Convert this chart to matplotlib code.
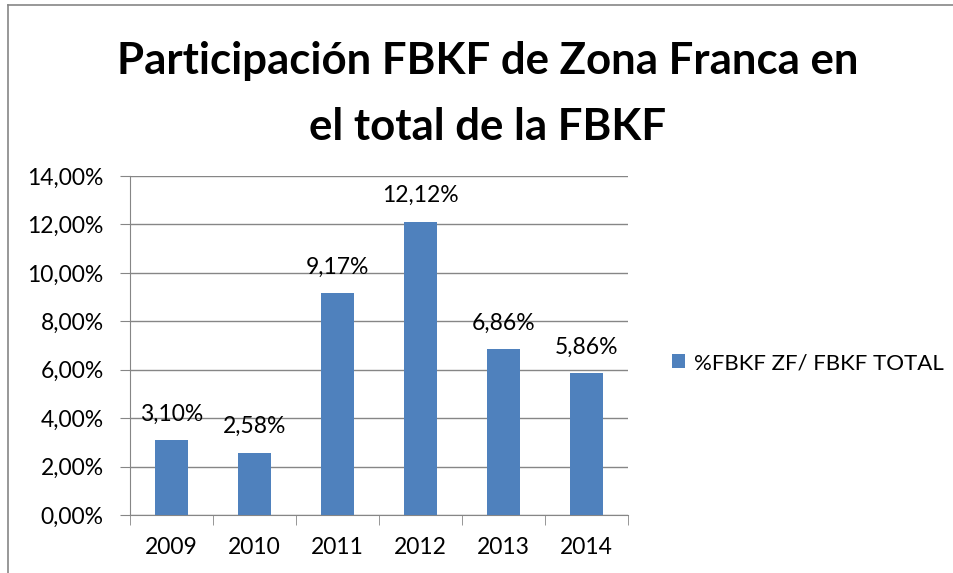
import matplotlib.pyplot as plt
from matplotlib.lines import Line2D

years = ['2009', '2010', '2011', '2012', '2013', '2014']
values = [3.10, 2.58, 9.17, 12.12, 6.86, 5.86]
series_name = '%FBKF ZF/ FBKF TOTAL'
title = 'Participación FBKF de Zona Franca en\nel total de la FBKF'

def pct(v):
    return ('%.2f%%' % v).replace('.', ',')

def main():
    plt.rcParams['font.family'] = ['Lato', 'DejaVu Sans']
    fig = plt.figure(figsize=(9.54, 5.73), dpi=100)
    ax = fig.add_axes([130 / 954, 1 - 515 / 573, 498 / 954, 339 / 573])

    x = range(len(years))
    bars = ax.bar(x, values, width=0.4, color='#4F81BD', zorder=3, label=series_name)
    for b, v in zip(bars, values):
        ax.annotate(pct(v), (b.get_x() + b.get_width() / 2, v), xytext=(0, 11),
                    textcoords='offset points', ha='center', va='bottom', fontsize=16.5)

    ax.set_xlim(-0.5, len(years) - 0.5)
    ax.set_ylim(0, 14)
    ax.set_yticks(range(0, 15, 2))
    ax.set_yticklabels([pct(v) for v in range(0, 15, 2)], fontsize=16.5)
    ax.set_xticks(list(x))
    ax.set_xticklabels(years, fontsize=16.5)
    ax.set_xticks([i - 0.5 for i in range(len(years) + 1)], minor=True)
    ax.tick_params(axis='x', which='major', length=0, pad=16)
    ax.tick_params(axis='x', which='minor', length=7, color='#868686', direction='out')
    ax.tick_params(axis='y', length=7, color='#868686', direction='out', pad=12)
    ax.grid(axis='y', color='#868686', linewidth=1, zorder=0)
    for s in ['top', 'right']:
        ax.spines[s].set_visible(False)
    for s in ['left', 'bottom']:
        ax.spines[s].set_color('#868686')

    fig.text(488 / 954, 1 - 94 / 573, title, ha='center', va='center',
             fontsize=31.5, fontweight='bold', linespacing=1.8)

    fig.legend(handles=[bars], labels=[series_name], loc='center left',
               bbox_to_anchor=(652 / 954, 1 - 363 / 573), frameon=False,
               fontsize=16, handlelength=0.6, handleheight=0.6, handletextpad=0.4)

    fig.add_artist(Line2D([8 / 954, 8 / 954], [0, 1 - 5 / 573], color='#868686', lw=1.2))
    fig.add_artist(Line2D([8 / 954, 1], [1 - 5 / 573, 1 - 5 / 573], color='#868686', lw=1.2))

    fig.savefig('out.png')

if __name__ == '__main__':
    main()
